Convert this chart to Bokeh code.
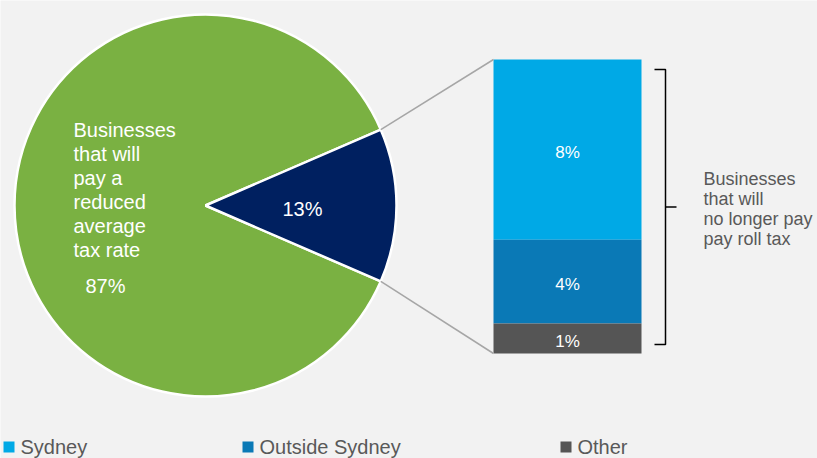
import math
from bokeh.plotting import figure
from bokeh.models import Range1d
from bokeh.core.properties import value
from bokeh.embed import file_html
from bokeh.resources import INLINE

# ---------------- data ----------------
pie_labels = ["Reduced average tax rate", "No longer pay payroll tax"]
pie_values = [87, 13]
pie_texts = ["87%", "13%"]
pie_colors = ["#7AB142", "#002060"]

bar_categories = ["Sydney", "Outside Sydney", "Other"]
bar_values = [7.97, 3.70, 1.33]
bar_texts = ["8%", "4%", "1%"]
bar_colors = ["#00A9E6", "#0A79B6", "#555555"]

left_lines = ["Businesses", "that will", "pay a", "reduced", "average", "tax rate"]
right_lines = ["Businesses", "that will", "no longer pay", "pay roll tax"]

# ---------------- layout ----------------
W, H = 817, 458
BG = "#F2F2F2"
FONT = value("Liberation Sans")
GREY_TXT = "#595959"

p = figure(width=W, height=H, x_range=Range1d(0, W), y_range=Range1d(0, H),
           output_backend="svg", toolbar_location=None,
           x_axis_type=None, y_axis_type=None, min_border=0,
           background_fill_color=BG, border_fill_color=BG,
           outline_line_color=None)

# pie (small slice centred on the right)
cx, cy, r = 205, 253, 191
total = sum(pie_values)
half = math.pi * pie_values[1] / total
starts = [half, -half]
ends = [2 * math.pi - half, half]
p.wedge(x=cx, y=cy, radius=r, start_angle=starts, end_angle=ends,
        fill_color=pie_colors, line_color="white", line_width=2.5)

# stacked bar on its own scale
bar_x, bar_w = 567, 148
bar_bottom_px, bar_top_px = 105, 399
btot = sum(bar_values)
scale = (bar_top_px - bar_bottom_px) / btot
p.extra_y_ranges = {"bar": Range1d(-bar_bottom_px / scale, (H - bar_bottom_px) / scale)}

tops, bottoms = [], []
acc = 0.0
for v in reversed(bar_values):
    bottoms.append(acc)
    acc += v
    tops.append(acc)
tops = list(reversed(tops))
bottoms = list(reversed(bottoms))
mids = [(a + b) / 2 for a, b in zip(tops, bottoms)]

p.vbar(x=bar_x, width=bar_w, bottom=bottoms, top=tops, fill_color=bar_colors,
       line_color=None, y_range_name="bar")
p.text(x=bar_x, y=mids, text=bar_texts, y_range_name="bar", text_align="center",
       text_baseline="middle", text_color="white", text_font=FONT,
       text_font_size="17px", y_offset=3)

# connector lines from the small slice to the bar
bar_left = bar_x - bar_w / 2
p.segment(x0=[cx + r * math.cos(half), cx + r * math.cos(-half)],
          y0=[cy + r * math.sin(half), cy + r * math.sin(-half)],
          x1=[bar_left, bar_left], y1=[bar_top_px, bar_bottom_px],
          line_color="#A6A6A6", line_width=1.5)

# pie labels
lx, ly0, lstep = 73, 329, 24
p.text(x=[lx] * len(left_lines), y=[ly0 - i * lstep for i in range(len(left_lines))],
       text=left_lines, text_color="white", text_font=FONT, text_font_size="20px",
       text_baseline="middle", text_align="left")
p.text(x=[85, 302], y=[173, 250], text=pie_texts, text_color="white", text_font=FONT,
       text_font_size="20px", text_baseline="middle", text_align=["left", "center"])

# bracket
bx0, bx1, btick = 654, 665, 676
byt, byb = bar_top_px - 10, bar_bottom_px + 9
bym = (byt + byb) / 2
p.multi_line(xs=[[bx0, bx1, bx1, bx0], [bx1, btick]],
             ys=[[byt, byt, byb, byb], [bym, bym]],
             line_color="black", line_width=1.5)

# right text
rx, ry0, rstep = 703, 280, 20.3
p.text(x=[rx] * len(right_lines), y=[ry0 - i * rstep for i in range(len(right_lines))],
       text=right_lines, text_color=GREY_TXT, text_font=FONT, text_font_size="18px",
       text_baseline="middle", text_align="left")

# legend
leg_x = [3, 242, 560]
sq = 11
p.quad(left=leg_x, right=[x + sq for x in leg_x], bottom=[6] * 3, top=[6 + sq] * 3,
       fill_color=bar_colors, line_color=None)
p.text(x=[x + sq + 6 for x in leg_x], y=[12] * 3, text=bar_categories,
       text_color=GREY_TXT, text_font=FONT, text_font_size="20px",
       text_baseline="middle", text_align="left")

open("out.html", "w").write(file_html(p, INLINE))
